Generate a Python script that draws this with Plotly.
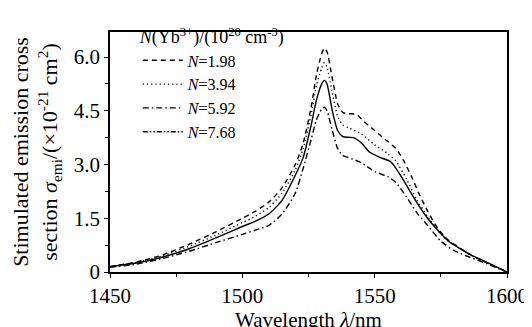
import plotly.graph_objects as go

# Wavelength samples (nm) and emission cross sections (1e-21 cm^2)
wl_198 = [1450, 1460, 1470, 1480, 1490, 1500, 1505, 1510, 1515, 1520, 1523, 1526, 1528, 1530, 1531, 1532, 1534, 1536, 1538, 1540, 1543, 1546, 1550, 1554, 1558, 1561, 1564, 1567, 1570, 1574, 1578, 1583, 1587, 1591, 1595, 1600]
sig_198 = [0.15, 0.28, 0.48, 0.78, 1.12, 1.5, 1.7, 1.95, 2.35, 3.0, 3.6, 4.6, 5.5, 6.1, 6.25, 6.15, 5.4, 4.7, 4.45, 4.42, 4.4, 4.2, 3.95, 3.7, 3.45, 3.1, 2.65, 2.15, 1.7, 1.2, 0.88, 0.63, 0.45, 0.3, 0.17, 0.0]

wl_394 = [1450, 1460, 1470, 1480, 1490, 1500, 1505, 1510, 1515, 1520, 1523, 1526, 1528, 1530, 1531, 1532, 1534, 1536, 1538, 1540, 1545, 1550, 1555, 1558, 1562, 1566, 1570, 1574, 1578, 1583, 1587, 1591, 1595, 1600]
sig_394 = [0.15, 0.27, 0.45, 0.72, 1.03, 1.38, 1.56, 1.8, 2.2, 2.85, 3.45, 4.4, 5.2, 5.7, 5.85, 5.72, 5.0, 4.35, 4.1, 4.03, 3.85, 3.55, 3.3, 3.1, 2.6, 2.0, 1.55, 1.15, 0.86, 0.62, 0.45, 0.3, 0.17, 0.0]

wl_592 = [1450, 1460, 1470, 1480, 1490, 1500, 1505, 1510, 1515, 1520, 1523, 1526, 1528, 1530, 1531, 1532, 1534, 1536, 1538, 1540, 1545, 1550, 1555, 1558, 1562, 1566, 1570, 1575, 1580, 1585, 1590, 1595, 1600]
sig_592 = [0.13, 0.22, 0.38, 0.58, 0.82, 1.05, 1.17, 1.3, 1.62, 2.2, 2.9, 3.7, 4.25, 4.55, 4.6, 4.5, 3.95, 3.45, 3.25, 3.2, 3.05, 2.8, 2.66, 2.5, 2.1, 1.65, 1.3, 0.86, 0.6, 0.44, 0.3, 0.15, 0.0]

wl_768 = [1450, 1460, 1470, 1480, 1490, 1500, 1505, 1510, 1515, 1520, 1523, 1526, 1528, 1530, 1531, 1532, 1534, 1536, 1538, 1540, 1542, 1545, 1548, 1552, 1556, 1558, 1561, 1565, 1570, 1574, 1578, 1583, 1587, 1591, 1595, 1600]
sig_768 = [0.15, 0.25, 0.42, 0.65, 0.95, 1.27, 1.42, 1.62, 2.0, 2.7, 3.2, 4.1, 4.8, 5.25, 5.35, 5.25, 4.5, 3.95, 3.78, 3.76, 3.75, 3.6, 3.35, 3.2, 3.08, 2.9, 2.55, 2.05, 1.5, 1.15, 0.85, 0.62, 0.45, 0.32, 0.18, 0.0]

labels = ["<i>N</i>=1.98", "<i>N</i>=3.94", "<i>N</i>=5.92", "<i>N</i>=7.68"]

y_ticks = [0, 1.5, 3.0, 4.5, 6.0]
y_ticktext = ["0", "1.5", "3.0", "4.5", "6.0"]
x_ticks = [1450, 1500, 1550, 1600]

FONT = "Liberation Serif, Times New Roman, serif"
LW = 1.4

fig = go.Figure()
fig.add_trace(go.Scatter(x=wl_198, y=sig_198, mode="lines", name=labels[0],
                         line=dict(color="black", width=LW, dash="5px,4px", shape="spline", smoothing=0.6)))
fig.add_trace(go.Scatter(x=wl_394, y=sig_394, mode="lines", name=labels[1],
                         line=dict(color="black", width=LW, dash="1.2px,3px", shape="spline", smoothing=0.6)))
fig.add_trace(go.Scatter(x=wl_592, y=sig_592, mode="lines", name=labels[2],
                         line=dict(color="black", width=LW, dash="6px,3px,1.5px,3px", shape="spline", smoothing=0.6)))
fig.add_trace(go.Scatter(x=wl_768, y=sig_768, mode="lines", name=labels[3], showlegend=False,
                         line=dict(color="black", width=LW, shape="spline", smoothing=0.6)))
# legend sample for the last series (drawn as dash-dot-dot in the original key)
fig.add_trace(go.Scatter(x=[None], y=[None], mode="lines", name=labels[3],
                         line=dict(color="black", width=LW, dash="5px,2px,1.5px,2px,1.5px,2px")))

fig.update_layout(
    width=532, height=327,
    margin=dict(l=99, r=27, t=20, b=52),
    paper_bgcolor="white", plot_bgcolor="white",
    font=dict(family=FONT, size=20, color="black"),
    showlegend=True,
    legend=dict(
        x=0.07, y=1.05, xanchor="left", yanchor="top",
        bgcolor="rgba(0,0,0,0)", borderwidth=0,
        font=dict(family=FONT, size=16, color="black"),
        title=dict(text="<i>N</i>(Yb<sup>3+</sup>)/(10<sup>20</sup> cm<sup>-3</sup>)",
                   font=dict(family=FONT, size=18, color="black")),
        itemwidth=40, tracegroupgap=0,
    ),
    xaxis=dict(
        range=[1450, 1600], tickvals=x_ticks, showgrid=False, zeroline=False,
        showline=True, linecolor="black", linewidth=1.5, mirror=True,
        ticks="outside", ticklen=4, tickwidth=1, tickcolor="black",
        minor=dict(dtick=25, ticks="outside", ticklen=3, tickwidth=1, tickcolor="black"),
        tickfont=dict(family=FONT, size=21),
        title=dict(text="Wavelength <i>λ</i>/nm", font=dict(family=FONT, size=21), standoff=0),
    ),
    yaxis=dict(
        range=[0, 6.7], tickvals=y_ticks, ticktext=y_ticktext, showgrid=False, zeroline=False,
        showline=True, linecolor="black", linewidth=1.5, mirror=True,
        ticks="outside", ticklen=4, tickwidth=1, tickcolor="black",
        minor=dict(dtick=0.75, ticks="outside", ticklen=3, tickwidth=1, tickcolor="black"),
        tickfont=dict(family=FONT, size=21),
        title=dict(text="Stimulated emission cross<br>section <i>σ</i><sub>emi</sub>/(×10<sup>-21</sup> cm<sup>2</sup>)",
                   font=dict(family=FONT, size=22), standoff=10),
    ),
)

fig.write_html("out.html")
